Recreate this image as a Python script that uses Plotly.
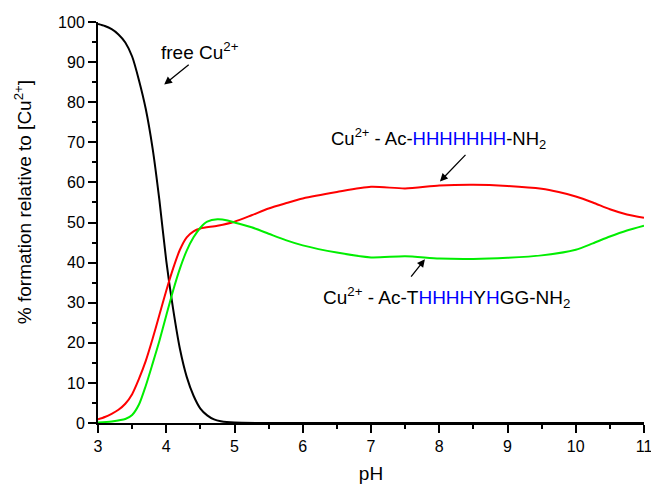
import plotly.graph_objects as go

ph_free = [3.0, 3.1, 3.2, 3.3, 3.4, 3.5, 3.6, 3.7, 3.8, 3.9, 4.0, 4.1, 4.2, 4.3, 4.4, 4.5, 4.6, 4.7, 4.8, 5.0, 5.5, 6.0, 7.0, 8.0, 9.0, 10.0, 11.0]
free_cu = [99.5, 99.0, 98.2, 96.9, 94.9, 91.4, 85.5, 78.3, 68.5, 55.5, 40.5, 28.5, 18.5, 11.5, 6.8, 3.6, 1.9, 0.9, 0.45, 0.1, 0.0, 0.0, 0.0, 0.0, 0.0, 0.0, 0.0]

ph_red = [3.0, 3.1, 3.2, 3.3, 3.4, 3.5, 3.6, 3.7, 3.8, 3.9, 4.0, 4.1, 4.2, 4.3, 4.4, 4.5, 4.75, 5.0, 5.25, 5.5, 5.75, 6.0, 6.5, 7.0, 7.5, 8.0, 8.5, 9.0, 9.5, 9.75, 10.0, 10.25, 10.5, 10.75, 11.0]
cu_h7 = [0.9, 1.5, 2.3, 3.3, 4.8, 7.2, 11.0, 15.5, 21.0, 27.0, 33.0, 38.5, 43.2, 46.3, 47.8, 48.5, 49.2, 50.2, 51.8, 53.5, 54.8, 56.0, 57.6, 58.9, 58.5, 59.2, 59.4, 59.1, 58.4, 57.6, 56.5, 55.0, 53.3, 52.0, 51.2]

ph_green = [3.0, 3.2, 3.4, 3.5, 3.6, 3.7, 3.8, 3.9, 4.0, 4.1, 4.2, 4.3, 4.4, 4.5, 4.6, 4.75, 4.9, 5.0, 5.25, 5.5, 5.75, 6.0, 6.5, 7.0, 7.5, 8.0, 8.5, 9.0, 9.5, 10.0, 10.25, 10.5, 10.75, 11.0]
cu_thhhhyhgg = [0.1, 0.4, 1.0, 2.0, 4.6, 9.3, 14.8, 20.5, 26.8, 33.0, 38.5, 43.0, 46.3, 48.7, 50.2, 50.8, 50.5, 50.0, 48.8, 47.2, 45.6, 44.3, 42.5, 41.3, 41.6, 41.0, 40.9, 41.2, 41.8, 43.2, 44.8, 46.5, 48.0, 49.2]

x_ticks = [3, 4, 5, 6, 7, 8, 9, 10, 11]
y_ticks = [0, 10, 20, 30, 40, 50, 60, 70, 80, 90, 100]

FONT = "Liberation Sans, Arial, sans-serif"

fig = go.Figure()
fig.add_trace(go.Scatter(x=ph_free, y=free_cu, mode="lines", line=dict(color="black", width=2, shape="spline", smoothing=0.7), showlegend=False, cliponaxis=False))
fig.add_trace(go.Scatter(x=ph_red, y=cu_h7, mode="lines", line=dict(color="#ff0000", width=2, shape="spline", smoothing=0.7), showlegend=False, cliponaxis=False))
fig.add_trace(go.Scatter(x=ph_green, y=cu_thhhhyhgg, mode="lines", line=dict(color="#00ee00", width=2, shape="spline", smoothing=0.7), showlegend=False, cliponaxis=False))

blue = "#0000ff"
fig.add_annotation(x=4.49, y=92.7, text="free Cu<sup>2+</sup>", showarrow=False, font=dict(size=19, color="black", family=FONT))
fig.add_annotation(x=7.99, y=70.9, text="Cu<sup>2+</sup> - Ac-<span style='color:%s'>HHHHHHH</span>-NH<sub>2</sub>" % blue, showarrow=False, font=dict(size=18.5, color="black", family=FONT))
fig.add_annotation(x=8.1, y=31.4, text="Cu<sup>2+</sup> - Ac-T<span style='color:%s'>HHHH</span>Y<span style='color:%s'>H</span>GG-NH<sub>2</sub>" % (blue, blue), showarrow=False, font=dict(size=19, color="black", family=FONT))

for (hx, hy, ax, ay) in [(3.97, 84.4, 26, -21), (8.01, 60.25, 27, -28), (7.79, 40.85, -15, 19)]:
    fig.add_annotation(x=hx, y=hy, ax=ax, ay=ay, text="", showarrow=True, arrowhead=2, arrowsize=1.2, arrowwidth=1.3, arrowcolor="black")

# y-axis title (placed as a rotated annotation to match the reference's offset position)
fig.add_annotation(xref="paper", yref="paper", x=-0.136, y=0.55, xanchor="center", yanchor="middle",
                   textangle=-90, showarrow=False,
                   text="% formation relative to [Cu<sup>2+</sup>]", font=dict(size=19, color="black", family=FONT))

fig.update_layout(
    width=651, height=484,
    margin=dict(l=98, r=7, t=22, b=61),
    paper_bgcolor="white", plot_bgcolor="white",
    font=dict(family=FONT, size=16, color="black"),
    xaxis=dict(range=[3, 11], tickvals=x_ticks, ticks="outside", ticklen=8, tickwidth=1.5, tickcolor="black",
               showline=True, linecolor="black", linewidth=2, showgrid=False, zeroline=False, automargin=False,
               ticklabeloverflow="allow",
               minor=dict(dtick=0.5, ticks="outside", ticklen=4, tickwidth=1.5, tickcolor="black"),
               title=dict(text="pH", font=dict(size=19), standoff=12), tickfont=dict(size=16)),
    yaxis=dict(range=[0, 100], tickvals=y_ticks, ticks="outside", ticklen=8, tickwidth=1.5, tickcolor="black",
               showline=True, linecolor="black", linewidth=2, showgrid=False, zeroline=False, automargin=False,
               ticklabeloverflow="allow",
               minor=dict(dtick=5, ticks="outside", ticklen=4, tickwidth=1.5, tickcolor="black"),
               tickfont=dict(size=16)),
)

fig.write_html("out.html", config={"displayModeBar": False},
               post_script="document.body.style.margin='0';document.body.style.overflow='hidden';")
